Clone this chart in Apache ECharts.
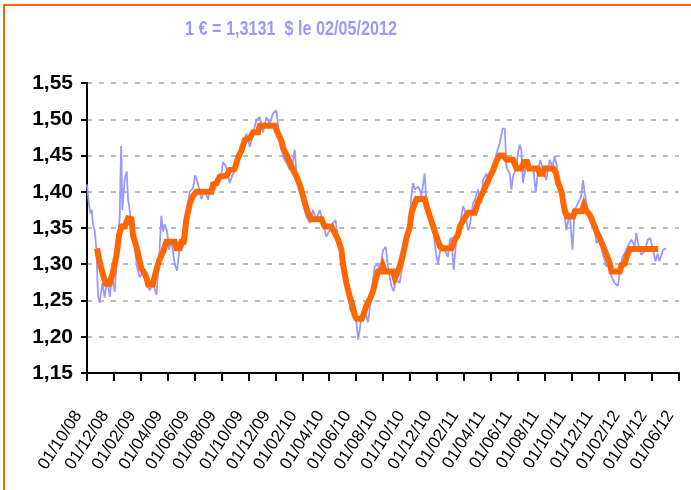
<!DOCTYPE html>
<html>
<head>
<meta charset="utf-8">
<script src="https://cdn.jsdelivr.net/npm/echarts@6/dist/echarts.min.js"></script>
<style>
html,body{margin:0;padding:0;width:691px;height:490px;background:#fff;overflow:hidden;}
#chart{width:691px;height:490px;}
#frame{position:absolute;left:3px;top:4px;width:720px;height:520px;border-top:2px solid #ff6600;border-left:2px solid #ff6600;pointer-events:none;}
</style>
</head>
<body>
<div id="chart"></div>
<div id="frame"></div>
<script>
// x positions are months counted from 01/10/08
var tickLabels = ['01/10/08','01/12/08','01/02/09','01/04/09','01/06/09','01/08/09','01/10/09','01/12/09',
  '01/02/10','01/04/10','01/06/10','01/08/10','01/10/10','01/12/10','01/02/11','01/04/11','01/06/11',
  '01/08/11','01/10/11','01/12/11','01/02/12','01/04/12','01/06/12'];

// daily rate (light blue)
var blueMonths = [
  0, 0.13, 0.25, 0.35, 0.45, 0.57, 0.70, 0.82, 0.94, 1.14,
  1.32, 1.49, 1.69, 1.85, 2.06, 2.19, 2.30, 2.43, 2.54, 2.63,
  2.80, 2.95, 3.05, 3.17, 3.30, 3.55, 3.72, 3.92, 4.16, 4.41,
  4.66, 4.91, 5.16, 5.33, 5.53, 5.66, 5.78, 5.95, 6.09, 6.27,
  6.52, 6.69, 6.89, 7.14, 7.20, 7.39, 7.52, 7.63, 7.88, 8.04,
  8.23, 8.50, 8.75, 8.99, 9.25, 9.49, 9.74, 9.99, 10.11, 10.36,
  10.61, 10.85, 11.10, 11.35, 11.59, 11.85, 12.10, 12.34, 12.59, 12.84,
  13.09, 13.33, 13.58, 13.82, 14.08, 14.27, 14.45, 14.57, 14.83, 15.07,
  15.30, 15.44, 15.57, 15.81, 16.06, 16.30, 16.55, 16.80, 17.05, 17.30,
  17.54, 17.79, 18.04, 18.28, 18.48, 18.66, 18.91, 19.16, 19.40, 19.56,
  19.77, 20.02, 20.16, 20.39, 20.64, 20.89, 21.14, 21.38, 21.63, 21.75,
  22.00, 22.20, 22.37, 22.62, 22.79, 22.99, 23.24, 23.48, 23.73, 23.93,
  24.11, 24.23, 24.36, 24.60, 24.73, 24.85, 25.10, 25.23, 25.48, 25.72,
  25.84, 25.97, 26.09, 26.34, 26.59, 26.83, 26.96, 27.08, 27.25, 27.45,
  27.70, 27.95, 28.07, 28.32, 28.44, 28.69, 28.82, 29.06, 29.31, 29.43,
  29.68, 29.93, 30.18, 30.44, 30.68, 30.88, 31.05, 31.18, 31.42, 31.54,
  31.66, 31.92, 32.03, 32.16, 32.28, 32.40, 32.65, 32.90, 33.15, 33.35,
  33.52, 33.70, 33.89, 34.14, 34.39, 34.59, 34.76, 34.93, 35.13, 35.38,
  35.63, 35.87, 36.08, 36.25, 36.49, 36.74, 36.86, 37.07, 37.24, 37.49,
  37.73, 37.86, 38.11, 38.36, 38.60, 38.85, 38.97, 39.22, 39.46, 39.59,
  39.79, 39.96, 40.21, 40.46, 40.70, 40.83, 41.00, 41.20, 41.45, 41.69,
  41.87, 42.06, 42.26, 42.41, 42.55, 42.81, 43.06
];
var blueRates = [
  1.410, 1.385, 1.370, 1.375, 1.355, 1.347, 1.320, 1.256, 1.247, 1.274,
  1.254, 1.280, 1.255, 1.285, 1.262, 1.300, 1.324, 1.367, 1.463, 1.375,
  1.417, 1.428, 1.390, 1.375, 1.352, 1.324, 1.296, 1.282, 1.291, 1.273,
  1.264, 1.273, 1.258, 1.300, 1.367, 1.345, 1.355, 1.346, 1.320, 1.333,
  1.300, 1.291, 1.324, 1.324, 1.330, 1.345, 1.385, 1.400, 1.405, 1.423,
  1.412, 1.390, 1.403, 1.389, 1.412, 1.403, 1.416, 1.425, 1.441, 1.434,
  1.412, 1.425, 1.430, 1.457, 1.467, 1.480, 1.462, 1.480, 1.499, 1.503,
  1.482, 1.503, 1.494, 1.508, 1.512, 1.480, 1.467, 1.449, 1.440, 1.430,
  1.440, 1.458, 1.425, 1.407, 1.384, 1.366, 1.357, 1.375, 1.361, 1.375,
  1.357, 1.338, 1.347, 1.357, 1.361, 1.334, 1.322, 1.288, 1.261, 1.238,
  1.229, 1.220, 1.196, 1.225, 1.238, 1.220, 1.256, 1.297, 1.301, 1.288,
  1.319, 1.324, 1.297, 1.270, 1.263, 1.279, 1.274, 1.301, 1.324, 1.346,
  1.395, 1.412, 1.403, 1.407, 1.403, 1.394, 1.425, 1.384, 1.371, 1.352,
  1.330, 1.311, 1.301, 1.328, 1.319, 1.310, 1.333, 1.337, 1.292, 1.334,
  1.352, 1.380, 1.375, 1.347, 1.352, 1.384, 1.388, 1.403, 1.384, 1.416,
  1.425, 1.412, 1.434, 1.453, 1.467, 1.487, 1.487, 1.434, 1.425, 1.403,
  1.421, 1.434, 1.453, 1.465, 1.458, 1.412, 1.440, 1.430, 1.434, 1.399,
  1.430, 1.444, 1.430, 1.416, 1.444, 1.434, 1.449, 1.434, 1.407, 1.384,
  1.347, 1.371, 1.320, 1.375, 1.384, 1.394, 1.416, 1.389, 1.371, 1.366,
  1.347, 1.329, 1.334, 1.313, 1.297, 1.300, 1.283, 1.274, 1.270, 1.288,
  1.310, 1.315, 1.325, 1.334, 1.325, 1.343, 1.325, 1.313, 1.318, 1.334,
  1.336, 1.320, 1.304, 1.315, 1.304, 1.320, 1.322
];

// smoothed rate (orange, stepped)
var orangeMonths = [
  0.74, 0.94, 1.17, 1.39, 1.69, 1.93, 2.19, 2.38, 2.56, 2.80,
  3.05, 3.30, 3.42, 3.67, 3.87, 4.04, 4.29, 4.44, 4.55, 4.88,
  5.11, 5.40, 5.65, 5.90, 6.52, 6.65, 6.89, 7.02, 7.19, 7.39,
  7.64, 7.88, 8.13, 9.25, 9.37, 9.62, 9.87, 10.36, 10.61, 10.98,
  11.23, 11.48, 11.72, 12.10, 12.34, 12.71, 12.84, 13.96, 14.20, 14.45,
  14.57, 14.83, 15.07, 15.32, 15.57, 15.81, 16.06, 16.26, 16.43, 16.68,
  17.43, 17.67, 18.17, 18.42, 18.66, 18.91, 19.03, 19.28, 19.52, 19.73,
  19.90, 20.05, 20.42, 20.52, 20.77, 21.02, 21.26, 21.46, 21.63, 21.83,
  21.98, 22.13, 22.75, 22.88, 23.12, 23.38, 23.55, 23.75, 24.00, 24.12,
  24.37, 24.49, 25.11, 25.24, 25.48, 25.73, 25.98, 26.22, 26.35, 27.09,
  27.34, 27.58, 27.71, 28.08, 28.33, 28.82, 29.07, 29.44, 29.69, 29.94,
  30.19, 30.44, 30.68, 30.93, 31.18, 31.67, 31.93, 32.30, 32.47, 32.71,
  32.86, 33.51, 33.66, 33.88, 34.03, 34.65, 34.85, 35.02, 35.27, 35.39,
  35.52, 35.69, 36.13, 36.26, 36.76, 36.93, 37.13, 37.37, 37.62, 37.87,
  38.11, 38.36, 38.61, 38.86, 38.98, 39.60, 39.73, 39.97, 40.10, 40.35,
  42.45
];
var orangeRates = [
  1.322, 1.303, 1.287, 1.273, 1.273, 1.289, 1.312, 1.340, 1.352, 1.352,
  1.363, 1.362, 1.340, 1.324, 1.308, 1.294, 1.287, 1.280, 1.272, 1.272,
  1.289, 1.307, 1.317, 1.331, 1.331, 1.322, 1.322, 1.331, 1.331, 1.362,
  1.384, 1.394, 1.400, 1.400, 1.410, 1.412, 1.421, 1.422, 1.430, 1.432,
  1.447, 1.457, 1.471, 1.474, 1.482, 1.482, 1.491, 1.491, 1.480, 1.470,
  1.460, 1.451, 1.440, 1.430, 1.421, 1.410, 1.394, 1.380, 1.371, 1.362,
  1.362, 1.352, 1.352, 1.343, 1.334, 1.320, 1.300, 1.274, 1.256, 1.243,
  1.229, 1.225, 1.225, 1.229, 1.243, 1.252, 1.263, 1.279, 1.290, 1.290,
  1.298, 1.290, 1.290, 1.281, 1.290, 1.306, 1.319, 1.337, 1.352, 1.371,
  1.384, 1.390, 1.390, 1.380, 1.366, 1.352, 1.338, 1.325, 1.322, 1.322,
  1.334, 1.341, 1.352, 1.364, 1.371, 1.371, 1.386, 1.400, 1.410, 1.421,
  1.430, 1.443, 1.450, 1.450, 1.444, 1.444, 1.432, 1.432, 1.441, 1.441,
  1.432, 1.432, 1.425, 1.425, 1.432, 1.432, 1.426, 1.412, 1.400, 1.386,
  1.373, 1.366, 1.366, 1.373, 1.373, 1.382, 1.373, 1.368, 1.357, 1.345,
  1.336, 1.325, 1.313, 1.301, 1.290, 1.290, 1.299, 1.301, 1.310, 1.321,
  1.321
];

var titleText = '1 € = 1,3131  $ le 02/05/2012';

var chart = echarts.init(document.getElementById('chart'), null, { renderer: 'canvas' });

chart.setOption({
  animation: false,
  backgroundColor: '#ffffff',
  graphic: [{
    type: 'text',
    x: 185,
    y: 29,
    scaleX: 0.81,
    style: {
      text: titleText,
      font: 'bold 20px Arial, "Liberation Sans", sans-serif',
      fill: '#9999ff',
      verticalAlign: 'middle'
    }
  }],
  grid: { left: 87, right: 12, top: 83, bottom: 117 },
  xAxis: {
    type: 'value',
    min: 0,
    max: 44,
    interval: 2,
    axisLine: { lineStyle: { color: '#000', width: 2 } },
    axisTick: { length: 8, lineStyle: { color: '#000', width: 2 } },
    splitLine: { show: false },
    axisLabel: {
      rotate: 57,
      margin: 26,
      padding: [0, 16, 0, 0],
      color: '#000',
      fontFamily: 'Arial, "Liberation Sans", sans-serif',
      fontSize: 17,
      formatter: function (v) { return tickLabels[Math.round(v / 2)]; }
    }
  },
  yAxis: {
    type: 'value',
    min: 1.15,
    max: 1.55,
    interval: 0.05,
    axisLine: { show: true, lineStyle: { color: '#000', width: 2 } },
    axisTick: { show: true, length: 6, lineStyle: { color: '#000', width: 2 } },
    splitLine: { show: true, lineStyle: { color: '#bbbbbb', width: 2, type: [5, 7] } },
    axisLabel: {
      margin: 14,
      color: '#000',
      fontWeight: 'bold',
      fontFamily: 'Arial, "Liberation Sans", sans-serif',
      fontSize: 21,
      formatter: function (v) { return v.toFixed(2).replace('.', ','); }
    }
  },
  series: [
    {
      type: 'line',
      data: blueMonths.map(function (m, i) { return [m, blueRates[i]]; }),
      showSymbol: false,
      lineStyle: { color: '#9999ff', width: 1.8 },
      z: 2
    },
    {
      type: 'line',
      data: orangeMonths.map(function (m, i) { return [m, orangeRates[i]]; }),
      showSymbol: false,
      lineStyle: { color: '#ff6600', width: 6, join: 'miter' },
      z: 3
    }
  ]
});
</script>
</body>
</html>
